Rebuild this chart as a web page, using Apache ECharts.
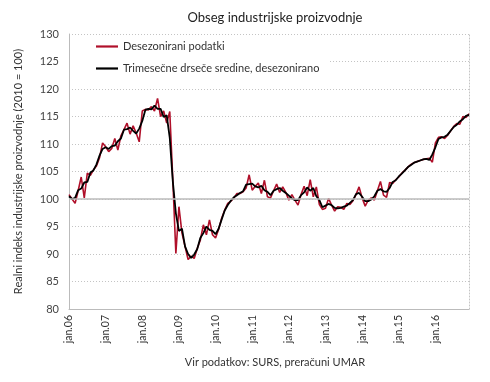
<!DOCTYPE html>
<html>
<head>
<meta charset="utf-8">
<script src="https://cdn.jsdelivr.net/npm/echarts@6/dist/echarts.min.js"></script>
<style>html,body{margin:0;padding:0;background:#fff}#c{width:490px;height:382px}</style>
</head>
<body>
<div id="c"></div>
<script>
var monthNames = ['jan','feb','mar','apr','maj','jun','jul','avg','sep','okt','nov','dec'];
var years = ['06','07','08','09','10','11','12','13','14','15','16'];
var categories = [];
years.forEach(function (y) { monthNames.forEach(function (m) { categories.push(m + '.' + y); }); });

var seasonal = [
  100.8,100.0,99.2,101.5,104.0,100.2,104.7,104.3,105.3,106.0,107.5,110.2,
  109.5,108.6,109.2,111.0,108.9,111.5,112.6,113.8,111.8,113.3,112.0,110.4,
  116.0,116.3,116.2,116.8,116.0,118.3,115.0,116.0,113.8,115.9,103.5,90.1,
  98.6,93.8,91.4,89.0,89.6,89.2,91.0,92.5,95.3,93.5,96.2,93.5,
  92.9,94.5,96.5,98.0,99.2,99.6,100.2,101.0,101.0,101.3,102.0,104.4,
  101.6,102.3,102.9,101.0,103.4,100.4,100.2,101.5,102.7,101.2,102.2,101.2,
  99.8,100.8,99.8,98.9,100.8,102.3,100.6,103.5,100.4,102.2,99.0,98.1,
  98.3,100.1,98.9,97.8,98.6,98.5,98.1,99.2,99.0,99.7,100.8,102.2,
  100.2,98.7,99.8,100.2,99.8,101.5,103.2,100.7,100.3,103.0,102.8,103.5,
  104.0,104.7,105.2,105.8,106.3,106.6,106.8,107.0,107.2,107.3,107.4,106.7,
  110.2,111.2,111.3,111.0,111.6,112.4,113.2,113.7,113.6,115.0,114.8,115.5
];
var movingAvg = [
  100.5,100.0,100.2,101.6,101.9,103.0,103.1,104.8,105.2,106.3,107.9,109.1,
  109.4,109.1,109.6,109.7,110.5,111.0,112.6,112.7,113.0,112.4,111.9,112.8,
  114.2,116.2,116.4,116.3,117.0,116.4,116.4,114.9,115.2,111.1,103.2,97.4,
  94.2,94.6,91.4,90.0,89.3,89.9,90.9,92.9,93.8,95.0,94.4,94.2,
  93.6,94.6,96.3,97.9,98.9,99.7,100.3,100.7,101.1,101.4,102.6,102.7,
  102.8,102.3,102.1,102.4,101.6,101.3,100.7,101.5,101.8,102.0,101.5,101.1,
  100.6,100.1,99.8,99.8,100.7,101.2,102.1,101.5,102.0,100.5,99.8,98.5,
  98.8,99.1,98.9,98.4,98.3,98.4,98.6,98.8,99.3,99.8,100.9,101.1,
  100.4,99.6,99.6,99.9,100.5,101.5,101.8,101.4,101.3,102.0,103.1,103.4,
  104.1,104.6,105.2,105.8,106.2,106.6,106.8,107.0,107.2,107.3,107.1,108.1,
  109.4,110.9,111.2,111.3,111.7,112.4,113.1,113.5,114.1,114.5,115.1,115.3
];
var yTicks = {min: 80, max: 130, interval: 5};

var FONT = 'Lato, "Noto Sans", sans-serif';
var chart = echarts.init(document.getElementById('c'), null, {renderer: 'canvas'});
chart.setOption({
  animation: false,
  textStyle: {fontFamily: FONT},
  title: [{
    text: 'Obseg industrijske proizvodnje',
    left: 270, top: 6, textAlign: 'center',
    textStyle: {fontFamily: FONT, fontSize: 13, fontWeight: 'normal', color: '#222'}
  }, {
    text: 'Vir podatkov: SURS, preračuni UMAR',
    left: 270, top: 352, textAlign: 'center',
    textStyle: {fontFamily: FONT, fontSize: 11, fontWeight: 'normal', color: '#333'}
  }],
  legend: {
    orient: 'vertical',
    left: 70, top: 36,
    padding: [5, 10, 5, 26],
    backgroundColor: '#fff',
    itemWidth: 22, itemHeight: 12, itemGap: 11,
    textStyle: {fontFamily: FONT, fontSize: 11, color: '#333'},
    data: [
      {name: 'Desezonirani podatki', icon: 'path://M0,0H10V1H0Z'},
      {name: 'Trimesečne drseče sredine, desezonirano', icon: 'path://M0,0H10V1H0Z'}
    ]
  },
  grid: {left: 69, right: 21, top: 34, bottom: 73, containLabel: false},
  xAxis: {
    type: 'category', data: categories, boundaryGap: false,
    axisLine: {lineStyle: {color: '#bbb'}},
    axisTick: {show: false},
    axisLabel: {interval: 11, rotate: 90, fontSize: 10.5, color: '#333', margin: 6, fontFamily: FONT},
    splitLine: {show: false}
  },
  yAxis: [{
    type: 'value', min: yTicks.min, max: yTicks.max, interval: yTicks.interval,
    name: 'Realni indeks industrijske proizvodnje (2010 = 100)',
    nameLocation: 'middle', nameGap: 45,
    nameTextStyle: {fontFamily: FONT, fontSize: 11, color: '#333'},
    axisLine: {show: true, lineStyle: {color: '#bbb'}},
    axisTick: {show: false},
    axisLabel: {fontSize: 11, color: '#444', margin: 10, fontFamily: FONT},
    splitLine: {lineStyle: {color: '#c4c4c4', type: [1, 2], width: 1}}
  }, {
    type: 'value', min: yTicks.min, max: yTicks.max, interval: yTicks.interval,
    position: 'right',
    axisLine: {show: true, lineStyle: {color: '#c4c4c4', type: [1, 2]}},
    axisTick: {show: false}, axisLabel: {show: false}, splitLine: {show: false}
  }],
  series: [{
    name: 'Desezonirani podatki', type: 'line', data: seasonal,
    symbol: 'none', color: '#b0102a',
    lineStyle: {color: '#b0102a', width: 1.6},
    z: 3,
    markLine: {
      silent: true, symbol: 'none', label: {show: false},
      lineStyle: {color: '#bbb', type: 'solid', width: 1.5},
      data: [{yAxis: 100}]
    }
  }, {
    name: 'Trimesečne drseče sredine, desezonirano', type: 'line', data: movingAvg,
    symbol: 'none', color: '#000',
    lineStyle: {color: '#000', width: 1.8},
    z: 4
  }]
});
</script>
</body>
</html>
